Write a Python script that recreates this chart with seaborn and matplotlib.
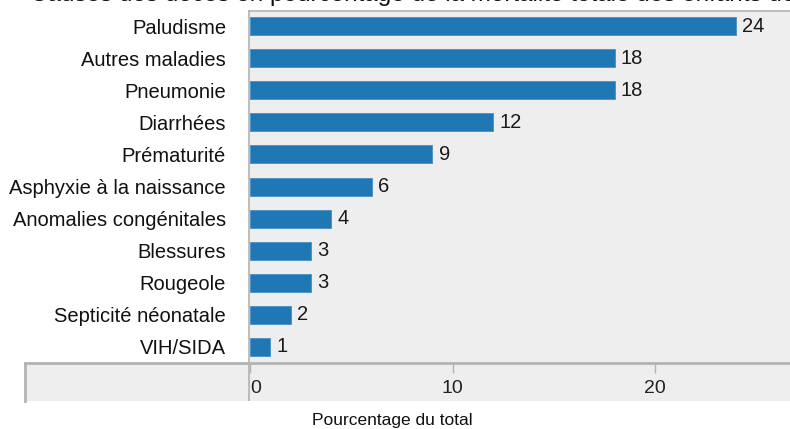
import matplotlib
matplotlib.use("Agg")
import matplotlib.pyplot as plt
import seaborn as sns
import pandas as pd

# Causes de décès (pourcentage du total)
categories = [
    "Paludisme",
    "Autres maladies",
    "Pneumonie",
    "Diarrhées",
    "Prématurité",
    "Asphyxie à la naissance",
    "Anomalies congénitales",
    "Blessures",
    "Rougeole",
    "Septicité néonatale",
    "VIH/SIDA",
]
values = [24, 18, 18, 12, 9, 6, 4, 3, 3, 2, 1]
x_ticks = [0, 10, 20]
title = "Causes des décès en pourcentage de la mortalité totale des enfants de moins de cinq ans"
x_label = "Pourcentage du total"

df = pd.DataFrame({"cause": categories, "pct": values})

sns.set_theme(style="white")
plt.rcParams["font.family"] = ["Liberation Sans", "DejaVu Sans"]

W, H = 790, 429
fig = plt.figure(figsize=(W / 100, H / 100), dpi=100)

# pixel geometry of the plotting region
px_per_unit = 20.25
zero_px = 250
ax_left, ax_right, ax_top, ax_bottom = 249, 790, 11, 363
band_left, band_bottom = 25, 401
bg = "#eeeeee"
line_col = "#b3b3b3"

ax = fig.add_axes([ax_left / W, 1 - ax_bottom / H,
                   (ax_right - ax_left) / W, (ax_bottom - ax_top) / H])
ax.set_facecolor(bg)
sns.barplot(data=df, x="pct", y="cause", orient="h", color="#1f77b4",
            width=0.56, edgecolor="#4a8fc6", linewidth=0.6, saturation=1,
            ax=ax)
x_min = (ax_left - zero_px) / px_per_unit
x_max = (ax_right - zero_px) / px_per_unit
ax.set_xlim(x_min, x_max)
ax.set_ylim(10.5, -0.47)
ax.set_xlabel("")
ax.set_ylabel("")
ax.set_xticks([])
ax.tick_params(axis="y", length=0, pad=16.5, labelsize=14.5, labelcolor="#111111")
for side in ("right", "bottom"):
    ax.spines[side].set_visible(False)
for side in ("top", "left"):
    ax.spines[side].set_color(line_col)
    ax.spines[side].set_linewidth(1.2)

ax.bar_label(ax.containers[0], labels=[str(v) for v in values], padding=4.5,
             fontsize=14.5, color="#1a1a1a")

# lower band carrying the x-axis ticks
band = fig.add_axes([band_left / W, 1 - band_bottom / H,
                     (ax_right - band_left) / W, (band_bottom - ax_bottom) / H])
band.set_facecolor(bg)
band.set_xlim((band_left - zero_px) / px_per_unit, x_max)
band.set_ylim(0, 1)
band.set_yticks([])
band.set_xticks(x_ticks)
band.set_xticklabels([str(t) for t in x_ticks])
band.tick_params(axis="x", bottom=False, top=True, labelbottom=True,
                 labeltop=False, direction="in", length=7, width=1,
                 color=line_col, pad=-15, labelsize=14, labelcolor="#222222")
band.get_xticklabels()[0].set_ha("left")
band.axvline(x_min, color=line_col, lw=1.2)
for side in ("right", "bottom"):
    band.spines[side].set_visible(False)
for side in ("top", "left"):
    band.spines[side].set_color(line_col)
    band.spines[side].set_linewidth(2)

fig.text(392 / W, 1 - 421 / H, x_label, ha="center", va="center",
         fontsize=12.5, color="#111111")
fig.text(30 / W, 1 - 1.5 / H, title, ha="left", va="baseline",
         fontsize=17.5, color="#111111")

fig.savefig("out.png", dpi=100, facecolor="white")
